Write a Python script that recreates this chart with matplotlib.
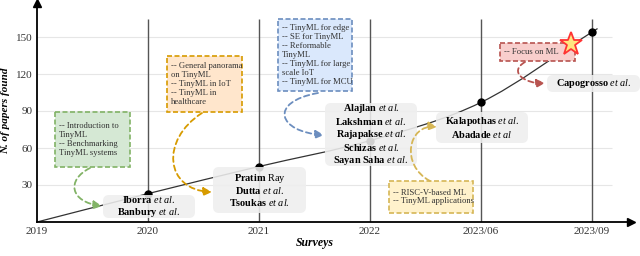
import matplotlib
matplotlib.use("Agg")
import matplotlib.pyplot as plt
import matplotlib.transforms as mtransforms
from matplotlib.path import Path
from matplotlib.patches import FancyArrowPatch, FancyBboxPatch, Rectangle

# data
years = ['2019', '2020', '2021', '2022', '2023/06', '2023/09']
papers = [0, 23, 45, 66, 97, 154]
yticks = [30, 60, 90, 120, 150]

names = [
    [r'$\mathbf{Iborra}$ $\mathit{et\ al.}$', r'$\mathbf{Banbury}$ $\mathit{et\ al.}$'],
    [r'$\mathbf{Pratim}$ Ray', r'$\mathbf{Dutta}$ $\mathit{et\ al.}$', r'$\mathbf{Tsoukas}$ $\mathit{et\ al.}$'],
    [r'$\mathbf{Alajlan}$ $\mathit{et\ al.}$', r'$\mathbf{Lakshman}$ $\mathit{et\ al.}$',
     r'$\mathbf{Rajapakse}$ $\mathit{et\ al.}$', r'$\mathbf{Schizas}$ $\mathit{et\ al.}$',
     r'$\mathbf{Sayan\ Saha}$ $\mathit{et\ al.}$'],
    [r'$\mathbf{Kalapothas}$ $\mathit{et\ al.}$', r'$\mathbf{Abadade}$ $\mathit{et\ al}$'],
    [r'$\mathbf{Capogrosso}$ $\mathit{et\ al.}$'],
]
topics = [
    ['-- Introduction to', 'TinyML', '-- Benchmarking', 'TinyML systems'],
    ['-- General panorama', 'on TinyML', '-- TinyML in IoT', '-- TinyML in', 'healthcare'],
    ['-- TinyML for edge', '-- SE for TinyML', '-- Reformable', 'TinyML', '-- TinyML for large',
     'scale IoT', '-- TinyML for MCU'],
    ['-- RISC-V-based ML', '-- TinyML applications'],
    ['-- Focus on ML'],
]
topic_fc = ['#d5e8d4', '#ffe6cc', '#dae8fc', '#fff2cc', '#f8cecc']
topic_ec = ['#82b366', '#d79b00', '#6c8ebf', '#d6b656', '#b85450']

plt.rcParams['font.family'] = 'Liberation Serif'
plt.rcParams['mathtext.fontset'] = 'custom'
plt.rcParams['mathtext.rm'] = 'Liberation Serif'
plt.rcParams['mathtext.bf'] = 'Liberation Serif:bold'
plt.rcParams['mathtext.it'] = 'Liberation Serif:italic'

fig = plt.figure(figsize=(6.4, 2.56), dpi=100)
ax = fig.add_axes([37/640, 34/256, 594/640, 219/256])
ax.set_xlim(0, 594/111)
ax.set_ylim(0, 219*30/37)
# pixel coords (origin top-left) for layout items
px = mtransforms.Affine2D().scale(1/100).scale(1, -1).translate(0, 2.56) + fig.dpi_scale_trans

x = list(range(len(years)))
ax.hlines(yticks, 0, 5.18, color='#e6e6e6', lw=0.8, zorder=0)
ax.vlines(x[1:], 0, 165, color='#555555', lw=1.0, zorder=1)

# smooth curve through the points (Catmull-Rom -> cubic bezier)
pts = list(zip(x, papers))
tan = []
for i in range(len(pts)):
    a = pts[max(i-1, 0)]
    b = pts[min(i+1, len(pts)-1)]
    k = 0.5 if 0 < i < len(pts)-1 else 1.0
    tan.append(((b[0]-a[0])*k, (b[1]-a[1])*k))
verts = [pts[0]]
codes = [Path.MOVETO]
for i in range(len(pts)-1):
    p0, p1 = pts[i], pts[i+1]
    verts += [(p0[0]+tan[i][0]/3, p0[1]+tan[i][1]/3),
              (p1[0]-tan[i+1][0]/3, p1[1]-tan[i+1][1]/3), p1]
    codes += [Path.CURVE4]*3
verts.append((pts[-1][0]+tan[-1][0]*0.05, pts[-1][1]+tan[-1][1]*0.05))
codes.append(Path.LINETO)
ax.add_patch(matplotlib.patches.PathPatch(Path(verts, codes), fc='none', ec='#333333', lw=0.9, zorder=2))
ax.plot(x[1:], papers[1:], 'o', color='black', ms=5, zorder=3)

ax.spines['top'].set_visible(False)
ax.spines['right'].set_visible(False)
ax.spines['left'].set_linewidth(1.3)
ax.spines['bottom'].set_linewidth(1.3)
ax.plot(1, 0, '>k', ms=6, transform=ax.get_yaxis_transform(), clip_on=False)
ax.plot(0, 1, '^k', ms=6, transform=ax.get_xaxis_transform(), clip_on=False)
ax.set_xticks(x)
ax.set_xticklabels(years)
ax.set_yticks(yticks)
ax.tick_params(length=0, labelsize=8, labelcolor='#333333')
ax.tick_params(axis='x', pad=3.5)
ax.tick_params(axis='y', pad=3.5)

fig.text(6, 111, 'N. of papers found', transform=px, rotation=90, ha='center', va='center',
         fontsize=8, fontweight='bold', style='italic')
fig.text(315, 243, 'Surveys', transform=px, ha='center', va='center',
         fontsize=8.5, fontweight='bold', style='italic')

# layout: name boxes, topic boxes, arrows (pixel coords)
name_boxes = [(103, 195, 195, 218), (213, 167, 306, 213), (325, 103, 417, 166),
              (436, 112, 528, 143), (547, 75, 640, 92)]
topic_boxes = [(55, 112, 130, 167), (167, 56, 242, 112), (278, 19, 352, 91),
               (389, 181, 473, 213), (500, 43, 575, 61)]
arrows = [[(90, 168), (66, 180), (70, 202), (102, 206)],
          [(202, 113), (160, 140), (165, 190), (212, 192)],
          [(318, 93), (268, 102), (278, 132), (324, 135)],
          [(430, 181), (400, 165), (408, 124), (437, 127)],
          [(525, 62), (508, 72), (525, 84), (545, 83)]]

for (x0, y0, x1, y1), lines in zip(name_boxes, names):
    fig.add_artist(FancyBboxPatch((x0, y0), x1-x0, y1-y0, boxstyle='round,pad=0,rounding_size=6',
                                  transform=px, fc='#eeeeee', ec='none', alpha=0.88, zorder=4))
    fig.text((x0+x1)/2, (y0+y1)/2, '\n'.join(lines), transform=px, ha='center', va='center',
             ma='center', fontsize=7.4, linespacing=1.1, zorder=5)

for (x0, y0, x1, y1), lines, fc, ec in zip(topic_boxes, topics, topic_fc, topic_ec):
    fig.add_artist(Rectangle((x0, y0), x1-x0, y1-y0, transform=px, fc=fc, ec=ec, lw=1.2,
                             ls=(0, (3, 1.5)), zorder=4))
    fig.text(x0+4, (y0+y1)/2, '\n'.join(lines), transform=px, ha='left', va='center',
             fontsize=6.2, color='#333333', linespacing=1.15, zorder=5)

for pts_a, ec in zip(arrows, topic_ec):
    p = Path(pts_a, [Path.MOVETO, Path.CURVE4, Path.CURVE4, Path.CURVE4])
    fig.add_artist(FancyArrowPatch(path=p, transform=px, arrowstyle='-|>,head_length=5,head_width=2.5',
                                   color=ec, lw=1.3, ls=(0, (3, 2)), mutation_scale=1, zorder=6))

fig.add_artist(matplotlib.lines.Line2D([571], [44], transform=px, marker='*', ms=17,
                                       mfc='#ffe680', mec='#ff3333', mew=1.3, zorder=7))

fig.savefig('out.png', dpi=100)
